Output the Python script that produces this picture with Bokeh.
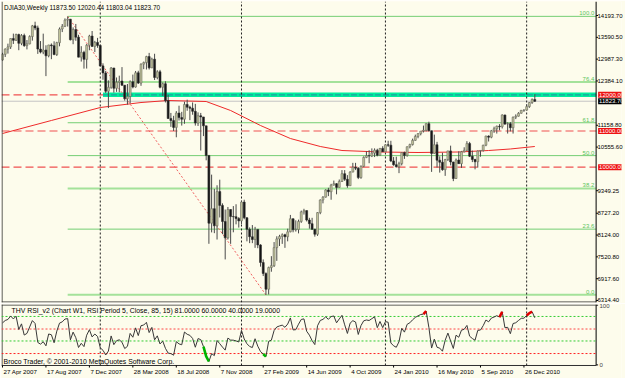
import numpy as np
from bokeh.plotting import figure
from bokeh.layouts import column
from bokeh.models import (Range1d, FixedTicker, LinearAxis, Label, Span,
                          ColumnDataSource, PrintfTickFormatter)
from bokeh.core.properties import value
from bokeh.embed import file_html
from bokeh.resources import INLINE

# ---------------- data ----------------
symbol_title = "DJIA30,Weekly  11873.50 12020.44 11803.04 11823.70"
rsi_title = "THV RSI_v2  (Chart W1, RSI Period 5, Close, 85, 15)  81.0000 60.0000 40.0000 19.0000"
copyright_text = "Broco Trader, \u00a9 2001-2010 MetaQuotes Software Corp."

prior_closes = [12647.48, 12114.10, 12276.32, 12110.41, 12481.01, 12354.35, 12560.20, 12612.13, 12961.98]

closes = [
    13120.94, 13264.62, 13326.22, 13556.53, 13507.28, 13668.11, 13424.39, 13639.48, 13360.26, 13408.62,
    13611.68, 13907.25, 13851.08, 13265.47, 13181.91, 13239.54, 13079.08, 13378.87, 13357.74, 13113.38,
    13442.52, 13820.19, 13895.63, 14066.01, 14093.08, 13522.02, 13806.70, 13595.10, 13042.74, 13176.79,
    12980.88, 13371.72, 13625.58, 13339.85, 13450.65, 13365.87, 12800.18, 12606.30, 12099.30, 12207.17,
    12743.19, 12182.13, 12348.21, 12381.02, 12266.39, 11893.69, 11951.09, 12361.32, 12216.40, 12609.42,
    12325.42, 12849.36, 12891.86, 13058.20, 12745.88, 12986.80, 12479.63, 12638.32, 12209.81, 12307.35,
    11842.69, 11346.51, 11288.53, 11100.54, 11496.57, 11370.69, 11326.32, 11734.32, 11659.90, 11628.06,
    11543.55, 11220.96, 11421.99, 11388.44, 11143.13, 10325.38, 8451.19, 8852.22, 8378.95, 9325.01,
    8943.81, 8497.31, 8046.42, 8829.04, 8635.42, 8629.68, 8579.11, 8515.55, 9034.69, 8599.18,
    8281.22, 8077.56, 8000.86, 8280.59, 7850.41, 7365.67, 7062.93, 6626.94, 7223.98, 7278.38,
    7776.18, 8017.59, 8083.38, 8131.33, 8076.29, 8212.41, 8574.65, 8268.64, 8277.32, 8500.33,
    8763.96, 8799.26, 8539.73, 8438.39, 8280.74, 8146.52, 8743.94, 9093.24, 9171.61, 9370.07,
    9321.40, 9505.96, 9544.20, 9441.27, 9605.41, 9820.20, 9665.19, 9487.67, 9864.94, 9995.91,
    9972.18, 9712.73, 10023.42, 10270.47, 10318.16, 10309.92, 10388.90, 10471.50, 10328.89, 10520.10,
    10428.05, 10618.19, 10609.65, 10172.98, 10067.33, 10012.23, 10099.14, 10402.35, 10325.26, 10566.20,
    10624.69, 10741.98, 10850.36, 10927.07, 10997.35, 11018.66, 11204.28, 11008.61, 10380.43, 10620.16,
    10193.39, 10136.63, 9931.97, 10211.07, 10450.64, 10143.81, 9686.48, 10198.03, 10097.90, 10424.62,
    10465.94, 10653.56, 10303.15, 10213.62, 10150.65, 10447.93, 10462.77, 10607.85, 10860.26, 10829.68,
    11006.48, 11062.78, 11132.56, 11118.49, 11444.08, 11192.58, 11203.55, 11092.00, 11382.09, 11410.32,
    11491.91, 11573.49, 11577.51, 11674.76, 11787.38, 11873.50, 11823.70]

highs = [
    13162, 13285, 13415, 13557, 13693, 13692, 13692, 13680, 13692, 13515,
    13646, 13933, 14022, 13914, 13487, 13692, 13370, 13382, 13421, 13480,
    13467, 13863, 13958, 14113, 14165, 14097, 13865, 13960, 13660, 13345,
    13220, 13405, 13660, 13765, 13493, 13575, 13388, 12871, 12662, 12400,
    12767, 12743, 12480, 12530, 12767, 12270, 12300, 12400, 12560, 12660,
    12665, 12870, 12920, 13080, 13160, 13027, 13136, 12680, 12690, 12340,
    12375, 12000, 11500, 11420, 11550, 11700, 11530, 11810, 11867, 11700,
    11790, 11750, 11515, 11500, 11390, 11143, 10325, 9794, 9400, 9500,
    9654, 9000, 8830, 8900, 8836, 8925, 8975, 8620, 9070, 9100,
    8620, 8335, 8400, 8350, 8280, 7870, 7450, 7090, 7250, 7540,
    7930, 8090, 8130, 8170, 8160, 8300, 8680, 8580, 8530, 8550,
    8800, 8850, 8800, 8600, 8600, 8300, 8760, 9110, 9200, 9390,
    9430, 9540, 9630, 9560, 9660, 9920, 9920, 9780, 9890, 10120,
    10120, 10000, 10050, 10300, 10440, 10470, 10520, 10520, 10510, 10530,
    10580, 10630, 10730, 10730, 10280, 10290, 10150, 10410, 10430, 10570,
    10650, 10790, 10900, 10940, 11000, 11150, 11210, 11258, 11010, 10900,
    10700, 10300, 10400, 10230, 10450, 10595, 10150, 10240, 10440, 10450,
    10550, 10720, 10700, 10460, 10230, 10460, 10470, 10620, 10870, 10880,
    11030, 11120, 11150, 11190, 11460, 11450, 11240, 11250, 11400, 11460,
    11520, 11580, 11600, 11740, 11800, 11900, 12020.44]

lows = [
    12946, 13047, 13140, 13269, 13407, 13491, 13234, 13373, 13327, 13257,
    13398, 13499, 13788, 13132, 13146, 13124, 12518, 13037, 12986, 13097,
    13075, 13342, 13735, 13873, 13889, 13504, 13400, 13494, 13040, 12920,
    12725, 12727, 13233, 13330, 13181, 13300, 12780, 12417, 12050, 11635,
    12168, 12060, 12083, 12070, 12250, 11840, 11731, 11766, 12180, 12200,
    12300, 12250, 12710, 12700, 12700, 12740, 12410, 12430, 12180, 11970,
    11790, 11340, 11115, 11000, 10827, 11290, 11150, 11200, 11560, 11300,
    11450, 11150, 11140, 10460, 10860, 10190, 7882, 8197, 8176, 8000,
    8610, 8150, 7450, 8000, 7880, 8200, 8420, 8330, 8430, 8560,
    7950, 7900, 7900, 7770, 7760, 7250, 6990, 6470, 6480, 7110,
    7240, 7410, 7820, 7880, 7770, 7950, 8200, 8200, 8220, 8170,
    8460, 8690, 8500, 8300, 8270, 8080, 8100, 8700, 9000, 9160,
    9200, 9100, 9490, 9250, 9430, 9590, 9620, 9430, 9480, 9860,
    9920, 9670, 9680, 10000, 10250, 10110, 10280, 10280, 10300, 10320,
    10420, 10430, 10560, 10140, 10040, 9990, 9835, 10050, 10230, 10290,
    10520, 10600, 10730, 10800, 10880, 10960, 10990, 10990, 9870, 10370,
    9990, 9850, 9900, 9760, 10170, 10050, 9614, 9680, 10090, 9980,
    10410, 10450, 10280, 10140, 9940, 9990, 10290, 10430, 10580, 10710,
    10800, 10950, 10930, 11020, 11070, 11170, 10930, 10990, 10930, 11330,
    11400, 11480, 11530, 11570, 11640, 11750, 11803.04]

date_tick_bars = [0, 16, 32, 48, 64, 80, 96, 112, 128, 144, 160, 176, 192]
date_tick_labels = ["27 Apr 2007", "17 Aug 2007", "7 Dec 2007", "28 Mar 2008", "18 Jul 2008",
                    "7 Nov 2008", "27 Feb 2009", "14 Jun 2009", "4 Oct 2009", "24 Jan 2010",
                    "16 May 2010", "5 Sep 2010", "26 Dec 2010"]
year_start_bars = [36, 88, 141, 193]

price_ticks = [14193.70, 13590.50, 12987.30, 12384.10, 11158.80, 10555.60,
               9349.25, 8727.20, 8124.00, 7520.80, 6917.60, 6314.40]

fib_high_bar, fib_high = 24, 14170.0
fib_low_bar, fib_low = 97, 6470.0
fib_levels = [100.0, 76.4, 61.8, 50.0, 38.2, 23.6, 0.0]

alert_levels = [12000.0, 11000.0, 10000.0]
alert_box_texts = ["12000.00", "11000.00", "10000.00"]
ray_start_bar, ray_price = 37, 12000.0
bid_price = 11823.70
bid_text = "11823.70"

ma_bars = [0, 18, 36, 51, 61, 75, 84, 95, 106, 117, 125, 139, 153, 168, 179, 187, 196]
ma_values = [10931, 11291, 11650, 11788, 11844, 11816, 11567, 11152, 10793, 10572,
             10461, 10420, 10406, 10420, 10461, 10503, 10572]

rsi_period = 5
rsi_ticks = [0, 100]
rsi_levels = [81, 60, 40, 19]
rsi_level_colors = ["#33CC33", "#FF4444", "#33CC33", "#FF2222"]
rsi_upper, rsi_lower = 85, 15

# ---------------- derived ----------------
n = len(closes)
idx = np.arange(n)
c = np.array(closes, dtype=float)
o = np.concatenate([[prior_closes[-1]], c[:-1]])
h = np.maximum(np.array(highs, dtype=float), np.maximum(o, c))
l = np.minimum(np.array(lows, dtype=float), np.minimum(o, c))
bull = c >= o

allc = np.array(prior_closes + closes, dtype=float)
d = np.diff(allc)
g = np.where(d > 0, d, 0.0)
ls = np.where(d < 0, -d, 0.0)
ag, al = g[:rsi_period].mean(), ls[:rsi_period].mean()
rsi_all = np.full(len(d), np.nan)
rsi_all[rsi_period - 1] = 100 * ag / (ag + al)
for i in range(rsi_period, len(d)):
    ag = (ag * (rsi_period - 1) + g[i]) / rsi_period
    al = (al * (rsi_period - 1) + ls[i]) / rsi_period
    rsi_all[i] = 100 * ag / (ag + al) if (ag + al) > 0 else 50
rsi = rsi_all[len(prior_closes) - 1:]

hi_mask = np.zeros(n, bool)
lo_mask = np.zeros(n, bool)
for i in range(n):
    if rsi[i] > rsi_upper or (i + 1 < n and rsi[i + 1] > rsi_upper):
        hi_mask[i] = True
    if rsi[i] < rsi_lower or (i + 1 < n and rsi[i + 1] < rsi_lower):
        lo_mask[i] = True
rsi_hi = np.where(hi_mask, rsi, np.nan)
rsi_lo = np.where(lo_mask, rsi, np.nan)

# ---------------- layout constants ----------------
BG = "#FDFCEC"
FONT = "Liberation Sans"
BAR_PX = 2.729                       # pixels per weekly bar
X0 = -1.0 / BAR_PX                   # frame starts 1px left of bar 0
X1 = X0 + 623 / BAR_PX               # frame spans to the right edge (price scale strip inside it)
X_AXIS = (598.5 - 2) / BAR_PX        # position of the price-scale line
TICK = 2.0 / BAR_PX
Y_MAIN = (6259.0, 14580.8)
Y_RSI = (-22.74, 101.0)              # -1..101 is the RSI pane, below that the time scale
MAIN_BOTTOM = 6272.7
RSI_TOP, RSI_BOTTOM = 100.16, -1.0
DATE_Y = -5.2
DATE_TICK_Y = -4.4

# ---------------- main price panel ----------------
p = figure(width=625, height=303, x_range=Range1d(X0, X1), y_range=Range1d(*Y_MAIN),
           output_backend="svg", toolbar_location=None,
           x_axis_location=None, y_axis_location=None,
           min_border_left=1, min_border_right=1, min_border_top=1, min_border_bottom=1)
p.background_fill_color = BG
p.border_fill_color = BG
p.outline_line_color = None
p.grid.visible = False

# price scale: labels drawn by a right axis pulled back over the scale strip
yax = LinearAxis(ticker=FixedTicker(ticks=price_ticks), formatter=PrintfTickFormatter(format="%.2f"))
yax.major_label_text_font = FONT
yax.major_label_text_font_size = "6px"
yax.major_label_text_color = "black"
yax.major_label_standoff = -24
yax.major_tick_out = 0
yax.major_tick_in = 0
yax.minor_tick_out = 0
yax.minor_tick_in = 0
yax.axis_line_color = None
p.add_layout(yax, "right")
p.add_layout(Span(location=X_AXIS, dimension="height", line_color="black", line_width=1))
p.segment(x0=X_AXIS, x1=X_AXIS + TICK, y0=price_ticks, y1=price_ticks, line_color="black", line_width=1)

# pane borders
p.add_layout(Span(location=X0 + 0.2, dimension="height", line_color="#303030", line_width=1))
p.segment(x0=X0, x1=X_AXIS, y0=MAIN_BOTTOM, y1=MAIN_BOTTOM, line_color="#303030", line_width=1)

# fibonacci levels
fib_thick = [False, True, False, False, True, False, True]
for lev, thick in zip(fib_levels, fib_thick):
    price = fib_low + lev / 100.0 * (fib_high - fib_low)
    p.segment(x0=fib_high_bar, x1=X_AXIS, y0=price, y1=price,
              line_color="#A4E29A" if thick else "#74CE74", line_width=2 if thick else 1)
    p.add_layout(Label(x=X_AXIS - 0.7, y=price, text="%.1f" % lev, text_align="right",
                       text_baseline="bottom", y_offset=1, text_font=FONT,
                       text_font_size="6px", text_color="#5CC45C"))

# alert lines (dashed red)
p.segment(x0=X0, x1=X_AXIS, y0=alert_levels, y1=alert_levels, line_color="#F05050",
          line_dash="8 4", line_width=1.2)
# bid line
p.segment(x0=X0, x1=X_AXIS, y0=bid_price, y1=bid_price, line_color="#C4C4C4", line_width=1)
# horizontal ray at 12000
p.segment(x0=ray_start_bar, x1=X_AXIS, y0=ray_price, y1=ray_price, line_color="#00EE9C", line_width=4.5)
p.segment(x0=ray_start_bar, x1=X_AXIS, y0=ray_price, y1=ray_price, line_color="#1E9E9E",
          line_width=1.4, line_dash="6 2")

# year separators
p.segment(x0=year_start_bars, x1=year_start_bars, y0=Y_MAIN[0], y1=Y_MAIN[1],
          line_color="#202020", line_dash="2 2", line_width=1)

# fib trend line
p.line([fib_high_bar, fib_low_bar], [fib_high, fib_low], line_color="#F06060",
       line_dash="2 2", line_width=1)

# moving average
p.line(ma_bars, ma_values, line_color="#EE2A2A", line_width=1)

# candles
src = ColumnDataSource(dict(x=idx, o=o, h=h, l=l, c=c,
                            top=np.maximum(o, c), bot=np.minimum(o, c),
                            fill=np.where(bull, "#C2C59C", "#151515"),
                            edge=np.where(bull, "#6A6A60", "#303030")))
p.segment(x0="x", x1="x", y0="l", y1="h", source=src, line_color="#4A4A4A", line_width=1)
p.vbar(x="x", top="top", bottom="bot", width=0.72, source=src,
       fill_color="fill", line_color="edge", line_width=0.6)

# title
p.add_layout(Label(x=0.6, y=14415, text=symbol_title, text_baseline="middle",
                   text_font=FONT, text_font_size="6.4px", text_color="black"))

# price boxes on the scale
for lev, txt in zip(alert_levels, alert_box_texts):
    p.add_layout(Label(x=X_AXIS, x_offset=2, y=lev, text=txt, text_align="left", text_baseline="middle",
                       text_font=FONT, text_font_size="6px", text_color="white",
                       background_fill_color="#EE1111", padding=1))
p.add_layout(Label(x=X_AXIS, x_offset=2, y=bid_price, text=bid_text, text_align="left",
                   text_baseline="middle", text_font=FONT, text_font_size="6px",
                   text_color="white", background_fill_color="black", padding=1))

# ---------------- RSI panel + time scale ----------------
q = figure(width=625, height=75, x_range=p.x_range, y_range=Range1d(*Y_RSI),
           output_backend="svg", toolbar_location=None,
           x_axis_location=None, y_axis_location=None,
           min_border_left=1, min_border_right=1, min_border_top=1, min_border_bottom=0)
q.background_fill_color = BG
q.border_fill_color = BG
q.outline_line_color = None
q.grid.visible = False

rax = LinearAxis(ticker=FixedTicker(ticks=rsi_ticks))
rax.major_label_text_font = FONT
rax.major_label_text_font_size = "6px"
rax.major_label_standoff = -22
rax.major_tick_out = 0
rax.major_tick_in = 0
rax.minor_tick_out = 0
rax.minor_tick_in = 0
rax.axis_line_color = None
q.add_layout(rax, "right")
q.segment(x0=X_AXIS, x1=X_AXIS, y0=RSI_BOTTOM, y1=RSI_TOP + 1, line_color="black", line_width=1)
q.segment(x0=X_AXIS, x1=X_AXIS + TICK, y0=rsi_ticks, y1=rsi_ticks, line_color="black", line_width=1)

# pane borders
q.segment(x0=X0 + 0.2, x1=X0 + 0.2, y0=RSI_BOTTOM, y1=RSI_TOP + 1, line_color="#303030", line_width=1)
q.segment(x0=X0, x1=X_AXIS, y0=[RSI_TOP, RSI_BOTTOM], y1=[RSI_TOP, RSI_BOTTOM],
          line_color="#303030", line_width=1)

for lev, col in zip(rsi_levels, rsi_level_colors):
    q.segment(x0=X0, x1=X_AXIS, y0=lev, y1=lev, line_color=col, line_dash="2 2", line_width=1)
q.segment(x0=year_start_bars, x1=year_start_bars, y0=RSI_BOTTOM, y1=RSI_TOP + 1,
          line_color="#202020", line_dash="2 2", line_width=1)

q.line(idx, rsi, line_color="#383838", line_width=1)
q.line(idx, rsi_hi, line_color="#E00000", line_width=2.6)
q.line(idx, rsi_lo, line_color="#00B400", line_width=2.6)

q.add_layout(Label(x=3.3, y=91, text=rsi_title, text_baseline="middle",
                   text_font=FONT, text_font_size="6.9px", text_color="black"))
q.add_layout(Label(x=0.4, y=6, text=copyright_text, text_baseline="middle",
                   text_font=FONT, text_font_size="6.9px", text_color="black"))

# time scale (labels start at their bar, MT4 style)
q.segment(x0=date_tick_bars, x1=date_tick_bars, y0=RSI_BOTTOM, y1=DATE_TICK_Y,
          line_color="black", line_width=1)
q.text(x=date_tick_bars, y=[DATE_Y] * len(date_tick_bars), text=date_tick_labels,
       text_align="left", text_baseline="top", x_offset=1,
       text_font=value(FONT), text_font_size=value("6.2px"), text_color="black")

layout = column(p, q, spacing=0)
open("out.html", "w").write(file_html(layout, INLINE))
